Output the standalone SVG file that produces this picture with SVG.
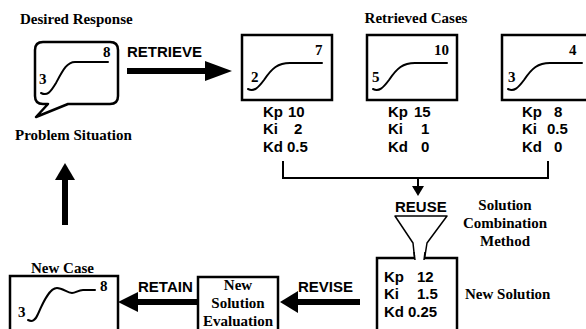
<svg xmlns="http://www.w3.org/2000/svg" width="586" height="329" viewBox="0 0 586 329">
<style>
.box{fill:#fff;stroke:#000;stroke-width:2.5}
.ln{fill:none;stroke:#000;stroke-width:2}
.cv{fill:none;stroke:#000;stroke-width:2;stroke-linecap:round}
.sf{font-family:"Liberation Serif","Times New Roman",serif;font-weight:bold;font-size:15px;fill:#000}
.ss{font-family:"Liberation Sans",Arial,sans-serif;font-weight:bold;font-size:15px;fill:#000}
.mid{text-anchor:middle}
.thick{fill:none;stroke:#000;stroke-width:6}
</style>
<rect width="586" height="329" fill="#fff"/>

<text class="sf" x="20" y="24">Desired Response</text>
<text class="sf mid" x="416" y="23">Retrieved Cases</text>

<g id="problem">
<path class="box" d="M43,42 H110 Q118,42 118,50 V96 Q118,104 110,104 H68 L36,117 L48,104 H43 Q35,104 35,96 V50 Q35,42 43,42 Z" stroke-linejoin="round"/>
<path class="cv" d="M41,93 C47,96 50,93 56,83 C63,70 67,62 75,62 L108,62"/>
<text class="sf" x="103" y="57">8</text>
<text class="sf" x="39" y="84">3</text>
<text class="sf" x="15" y="140">Problem Situation</text>
</g>

<g id="case1">
<rect class="box" x="242" y="35" width="90" height="65"/>
<path class="cv" d="M248,89 C254,92 258,88 264,80 C272,68 278,63 290,63 L322,63"/>
<text class="sf" x="315" y="55">7</text>
<text class="sf" x="251" y="82">2</text>
<text class="ss" x="263" y="117">Kp</text><text class="ss" x="288" y="117">10</text>
<text class="ss" x="263" y="134">Ki</text><text class="ss" x="294" y="134">2</text>
<text class="ss" x="263" y="152">Kd</text><text class="ss" x="287" y="152">0.5</text>
</g>

<g id="case2">
<rect class="box" x="367" y="35" width="90" height="65"/>
<path class="cv" d="M373,89 C379,92 383,88 389,80 C397,68 403,63 415,63 L447,63"/>
<text class="sf" x="434" y="55">10</text>
<text class="sf" x="372" y="82">5</text>
<text class="ss" x="388" y="117">Kp</text><text class="ss" x="414" y="117">15</text>
<text class="ss" x="388" y="134">Ki</text><text class="ss" x="421" y="134">1</text>
<text class="ss" x="388" y="152">Kd</text><text class="ss" x="421" y="152">0</text>
</g>

<g id="case3">
<rect class="box" x="502" y="35" width="90" height="65"/>
<path class="cv" d="M508,89 C514,92 518,88 524,80 C532,68 538,63 550,63 L582,63"/>
<text class="sf" x="569" y="55">4</text>
<text class="sf" x="508" y="82">3</text>
<text class="ss" x="522" y="117">Kp</text><text class="ss" x="554" y="117">8</text>
<text class="ss" x="522" y="134">Ki</text><text class="ss" x="547" y="134">0.5</text>
<text class="ss" x="522" y="152">Kd</text><text class="ss" x="554" y="152">0</text>
</g>

<g id="funnel">
<text class="ss" x="395" y="212">REUSE</text>
<path d="M395,216 L447,216 L427,243 L424,262 L415,262 L413,243 Z" fill="#fff" stroke="#000" stroke-width="1.5" stroke-linejoin="round"/>
<text class="sf mid" x="505" y="210">Solution</text>
<text class="sf mid" x="505" y="228">Combination</text>
<text class="sf mid" x="505" y="246">Method</text>
</g>

<g id="newsolution">
<rect class="box" x="377" y="258" width="80" height="80"/>
<path d="M415,256 L424,256 L424,262 L415,262 Z" fill="#fff"/>
<path d="M414,252 L415,260 M425,252 L424,260" stroke="#000" stroke-width="1.5"/>
<text class="ss" x="384" y="282">Kp</text><text class="ss" x="417" y="282">12</text>
<text class="ss" x="384" y="299">Ki</text><text class="ss" x="417" y="299">1.5</text>
<text class="ss" x="384" y="317">Kd</text><text class="ss" x="408" y="317">0.25</text>
<text class="sf" x="465" y="299">New Solution</text>
</g>

<g id="evaluation">
<rect class="box" x="198" y="277" width="80" height="60"/>
<text class="sf mid" x="238" y="290">New</text>
<text class="sf mid" x="238" y="308">Solution</text>
<text class="sf mid" x="238" y="326">Evaluation</text>
</g>

<g id="newcase">
<text class="sf" x="31" y="273">New Case</text>
<rect class="box" x="10" y="276" width="108" height="60"/>
<path class="cv" d="M28,320 C32,322 35,321 38,314 C44,300 50,288 57,288 C63,288 67,293 72,293 C76,293 78,290 83,290 L95,290"/>
<text class="sf" x="100" y="291">8</text>
<text class="sf" x="18" y="317">3</text>
</g>

<g id="connectors">
<text class="ss" x="127" y="57">RETRIEVE</text>
<line class="thick" x1="127" y1="71" x2="207" y2="71"/>
<polygon points="205,61 232,71 205,81"/>

<polyline class="ln" points="283,161 283,178 548,178 548,161"/>
<line class="ln" x1="418" y1="178" x2="418" y2="187"/>
<polygon points="412,186 424,186 418,196"/>

<text class="ss" x="298" y="292">REVISE</text>
<line class="thick" x1="360" y1="302" x2="295" y2="302"/>
<polygon points="298,291 280,302 298,313"/>

<text class="ss" x="138" y="292">RETAIN</text>
<line class="thick" x1="198" y1="302" x2="135" y2="302"/>
<polygon points="138,292 118,302 138,312"/>

<line class="thick" x1="65" y1="225" x2="65" y2="176"/>
<polygon points="55,180 65,163 75,180"/>
</g>
</svg>
